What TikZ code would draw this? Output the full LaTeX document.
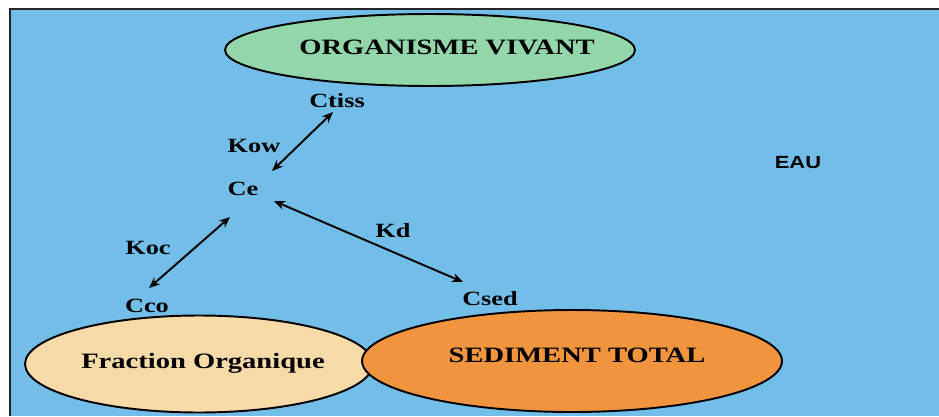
\documentclass[tikz,border=0pt]{standalone}
\usepackage{fontspec}
\setmainfont{Liberation Serif}[FakeStretch=1.3]
\newfontfamily\eausans{Liberation Sans}[FakeStretch=1.25]
\usetikzlibrary{shapes.geometric, arrows.meta}

\definecolor{eaubleu}{RGB}{114,190,232}
\definecolor{vivant}{RGB}{146,214,170}
\definecolor{organique}{RGB}{246,218,168}
\definecolor{sediment}{RGB}{240,148,62}

\begin{document}
\begin{tikzpicture}[
    x=0.02cm, y=-0.02cm,
    every node/.style = {font=\fontsize{11.5}{13}\selectfont\bfseries},
    zone/.style  = {ellipse, draw=black, line width=1.1pt},
    titre/.style = {font=\fontsize{12.5}{14}\selectfont\bfseries},
    conc/.style  = {inner sep=0pt},
    water/.style = {font=\eausans\fontsize{10}{12}\selectfont\bfseries},
    echange/.style = {<->, line width=1.1pt},
    >={Stealth[length=2.2mm, width=1.8mm]}
]
\useasboundingbox (0,0) rectangle (939,416);

% fond : l'eau
\fill[eaubleu] (10,9) rectangle (939,416);
\draw[line width=1.1pt, black!85] (10,416) -- (10,9) -- (939,9);

% compartiments
\node[zone, fill=vivant, minimum width=8.2cm, minimum height=1.44cm] (org) at (430,50) {};
\node[zone, fill=organique, minimum width=6.96cm, minimum height=1.94cm] (frac) at (199,364) {};
\node[zone, fill=sediment, minimum width=8.4cm, minimum height=2.04cm] (sed) at (572,361) {};

\node[titre] (orgtxt)  at (447,47)  {ORGANISME VIVANT};
\node[titre] (fractxt) at (203,363) {Fraction Organique};
\node[titre] (sedtxt)  at (577,355) {SEDIMENT TOTAL};

% concentrations
\node[conc] (ctiss) at (337,101) {Ctiss};
\node[conc] (ce)    at (243,189) {Ce};
\node[conc] (cco)   at (147,306) {Cco};
\node[conc] (csed)  at (490,299) {Csed};

% coefficients
\node[conc] (kow) at (254,146) {Kow};
\node[conc] (koc) at (148,248) {Koc};
\node[conc] (kd)  at (393,231) {Kd};

\node[water] (eau) at (798,163) {EAU};

% echanges
\draw[echange] ([shift={(29,-18)}]ce.center) -- ([shift={(-4,11)}]ctiss.center);
\draw[echange] ([shift={(-13,28)}]ce.center) -- ([shift={(2,-18)}]cco.center);
\draw[echange] ([shift={(31,12)}]ce.center) -- ([shift={(-27,-17)}]csed.center);

\end{tikzpicture}
\end{document}
